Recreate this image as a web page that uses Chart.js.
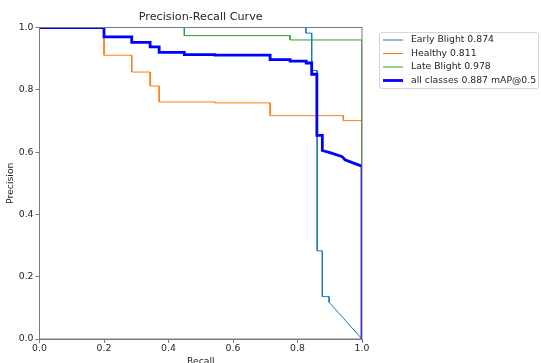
<!DOCTYPE html>
<html><head><meta charset="utf-8">
<script src="https://cdn.jsdelivr.net/npm/chart.js@4/dist/chart.umd.min.js"></script>
<style>html,body{margin:0;padding:0;background:#fff;overflow:hidden}</style>
</head><body>
<canvas id="c" width="541" height="363"></canvas>
<script>
// ---- data ----
const tickLabels = ['0.0', '0.2', '0.4', '0.6', '0.8', '1.0'];
const seriesLabels = ['Early Blight 0.874', 'Healthy 0.811', 'Late Blight 0.978', 'all classes 0.887 mAP@0.5'];

const earlyRecall    = [0, 0.826, 0.826, 0.844, 0.844, 0.861, 0.861, 0.877, 0.877, 0.898, 0.898, 1.0];
const earlyPrecision = [1, 1, 0.982, 0.982, 0.862, 0.862, 0.283, 0.283, 0.136, 0.136, 0.118, 0];

const healthyRecall    = [0, 0.200, 0.200, 0.286, 0.286, 0.343, 0.343, 0.371, 0.371, 0.544, 0.544, 0.715, 0.715, 0.942, 0.942, 1.0, 1.0];
const healthyPrecision = [1, 1, 0.911, 0.911, 0.857, 0.857, 0.812, 0.812, 0.761, 0.761, 0.758, 0.758, 0.717, 0.717, 0.701, 0.701, 0];

const lateRecall    = [0, 0.449, 0.449, 0.777, 0.777, 1.0, 1.0];
const latePrecision = [1, 1, 0.974, 0.974, 0.960, 0.960, 0];

const allRecall    = [0, 0.200, 0.200, 0.286, 0.286, 0.343, 0.343, 0.371, 0.371, 0.449, 0.449, 0.544, 0.544, 0.715, 0.715, 0.777, 0.777, 0.827, 0.827, 0.844, 0.844, 0.860, 0.860, 0.877, 0.877, 0.898, 0.937, 0.942, 0.947, 0.997, 1.0, 1.0];
const allPrecision = [1, 1, 0.970, 0.970, 0.952, 0.952, 0.938, 0.938, 0.920, 0.920, 0.913, 0.913, 0.911, 0.911, 0.897, 0.897, 0.892, 0.892, 0.886, 0.886, 0.850, 0.850, 0.654, 0.654, 0.605, 0.599, 0.586, 0.582, 0.575, 0.556, 0.555, 0];

// ---- chart ----
const FONT = '"DejaVu Sans", sans-serif';
const TEXT = '#262626';
const SPINE = '#7a7a7a';
function pts(xs, ys) { return xs.map((x, i) => ({x: x, y: ys[i]})); }

const frame = {
  id: 'frame',
  afterDatasetsDraw(chart) {
    const {ctx, chartArea: a} = chart;
    ctx.save();
    ctx.strokeStyle = SPINE;
    ctx.lineWidth = 1;
    ctx.strokeRect(a.left, a.top, a.right - a.left, a.bottom - a.top);
    ctx.restore();
  },
  afterDraw(chart) {
    const ctx = chart.ctx;
    const bx = 379.5, by = 32.5, bw = 159, bh = 56;
    ctx.save();
    ctx.beginPath();
    if (ctx.roundRect) ctx.roundRect(bx, by, bw, bh, 2.5); else ctx.rect(bx, by, bw, bh);
    ctx.fillStyle = 'rgba(255,255,255,0.8)';
    ctx.fill();
    ctx.strokeStyle = '#d6d6d6';
    ctx.lineWidth = 1;
    ctx.stroke();
    ctx.font = '9.3px ' + FONT;
    ctx.textBaseline = 'middle';
    ctx.textAlign = 'left';
    chart.data.datasets.forEach((ds, i) => {
      const y = 40 + i * 13.5;
      ctx.beginPath();
      ctx.strokeStyle = ds.borderColor;
      ctx.lineWidth = ds.borderWidth;
      ctx.moveTo(383, y);
      ctx.lineTo(403, y);
      ctx.stroke();
      ctx.fillStyle = TEXT;
      ctx.fillText(ds.label, 411, y);
    });
    ctx.restore();
  }
};

new Chart(document.getElementById('c'), {
  type: 'scatter',
  data: {
    datasets: [
      {label: seriesLabels[0], data: pts(earlyRecall, earlyPrecision), borderColor: '#1f77b4', borderWidth: 1, order: 3},
      {label: seriesLabels[1], data: pts(healthyRecall, healthyPrecision), borderColor: '#ff7f0e', borderWidth: 1, order: 2},
      {label: seriesLabels[2], data: pts(lateRecall, latePrecision), borderColor: '#2ca02c', borderWidth: 1, order: 1},
      {label: seriesLabels[3], data: pts(allRecall, allPrecision), borderColor: '#0000ff', borderWidth: 2.8, order: 0}
    ].map(d => Object.assign(d, {showLine: true, pointRadius: 0, tension: 0, fill: false, clip: 0, borderJoinStyle: 'miter', borderCapStyle: 'butt'}))
  },
  options: {
    responsive: false,
    animation: false,
    devicePixelRatio: 1,
    layout: {padding: {left: 0, right: 179, top: 0, bottom: 0}},
    plugins: {
      legend: {display: false},
      tooltip: {enabled: false},
      title: {
        display: true, text: 'Precision-Recall Curve', fullSize: false,
        color: TEXT, font: {family: FONT, size: 11.2, weight: 'normal'},
        padding: {top: 10.3, bottom: 3.76}
      }
    },
    scales: {
      x: {
        type: 'linear', min: 0, max: 1,
        afterFit(s) { s.height = 24; },
        border: {display: true, color: SPINE, width: 1},
        grid: {display: true, drawOnChartArea: false, drawTicks: true, tickLength: 4, tickColor: SPINE},
        ticks: {stepSize: 0.2, padding: 0, color: TEXT, font: {family: FONT, size: 9.3}, maxRotation: 0,
          callback: (v, i) => tickLabels[i]},
        title: {display: true, text: 'Recall', color: TEXT, font: {family: FONT, size: 9.3}, padding: {top: 0, bottom: -4.5}}
      },
      y: {
        type: 'linear', min: 0, max: 1,
        afterFit(s) { s.width = 39.5; },
        border: {display: true, color: SPINE, width: 1},
        grid: {display: true, drawOnChartArea: false, drawTicks: true, tickLength: 4, tickColor: SPINE},
        ticks: {stepSize: 0.2, padding: 2, color: TEXT, font: {family: FONT, size: 9.3},
          callback: (v, i) => tickLabels[i]},
        title: {display: true, text: 'Precision', color: TEXT, font: {family: FONT, size: 9.3}, padding: {top: 5.1, bottom: 0}}
      }
    }
  },
  plugins: [frame]
});
</script>
</body></html>
